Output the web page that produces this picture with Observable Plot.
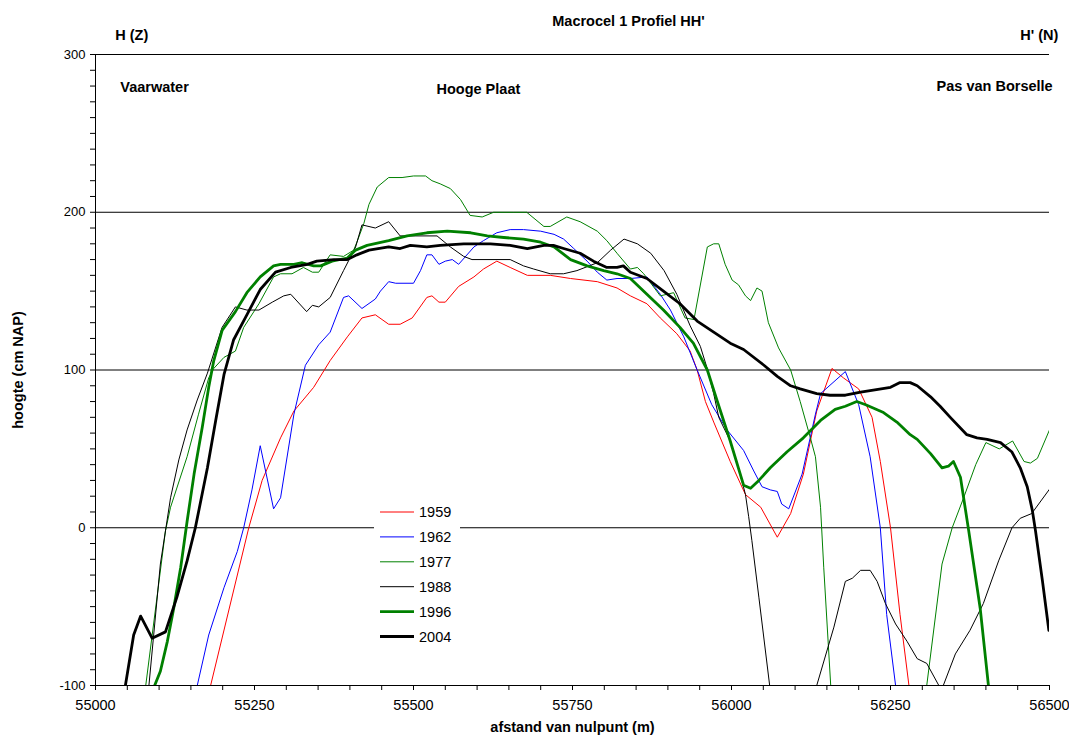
<!DOCTYPE html>
<html>
<head>
<meta charset="utf-8">
<script src="https://cdn.jsdelivr.net/npm/d3@7"></script>
<script src="https://cdn.jsdelivr.net/npm/@observablehq/plot@0.6"></script>
<style>
  html, body { margin: 0; padding: 0; background: #fff; }
  #chart { position: relative; width: 1069px; height: 735px; }
  svg { font-family: "Liberation Sans", Arial, sans-serif; }
</style>
</head>
<body>
<div id="chart"></div>
<script>
// ---- Data (afstand van nulpunt in m, hoogte in cm NAP) ----
const years = ["1959", "1962", "1977", "1988", "1996", "2004"];
const colors = ["#ff0000", "#0000ff", "#008000", "#000000", "#008000", "#000000"];
const widths = [1, 1, 1, 1, 2.8, 2.8];

const s1959 = [[55181,-100],[55241,0],[55262,30],[55291,57],[55312,74],[55343,89],[55369,106],[55396,121],[55419,133],[55440,135],[55461,129],[55479,129],[55498,133],[55521,146],[55529,147],[55540,143],[55550,143],[55571,153],[55595,159],[55610,164],[55631,169],[55652,165],[55679,160],[55715,160],[55747,158],[55789,156],[55820,152],[55841,147],[55867,142],[55888,133],[55914,123],[55935,112],[55946,100],[55959,80],[55972,67],[55998,42],[56022,21],[56046,13],[56072,-6],[56093,9],[56113,34],[56134,74],[56158,101],[56176,95],[56200,88],[56221,70],[56234,42],[56250,0],[56265,-55],[56279,-100]];

const s1962 = [[55160,-100],[55178,-68],[55202,-38],[55223,-15],[55233,0],[55246,24],[55259,52],[55280,12],[55291,19],[55312,72],[55330,103],[55351,116],[55369,124],[55390,146],[55398,147],[55419,139],[55440,145],[55448,150],[55461,156],[55472,155],[55500,155],[55511,163],[55521,173],[55529,173],[55540,167],[55550,169],[55561,170],[55571,167],[55595,178],[55610,182],[55631,187],[55652,189],[55673,189],[55700,188],[55721,186],[55736,183],[55752,177],[55773,169],[55789,162],[55804,157],[55820,158],[55841,158],[55867,159],[55888,148],[55904,138],[55925,121],[55946,100],[55969,78],[55993,62],[56019,49],[56035,36],[56048,26],[56061,24],[56072,23],[56079,15],[56090,12],[56111,34],[56132,72],[56140,85],[56179,99],[56200,78],[56218,45],[56234,0],[56244,-55],[56258,-100]];

const s1977 = [[55079,-100],[55110,-2],[55118,13],[55144,45],[55162,72],[55178,95],[55186,101],[55202,108],[55220,112],[55233,127],[55257,142],[55280,159],[55291,161],[55309,161],[55327,165],[55341,162],[55351,162],[55369,173],[55390,172],[55406,176],[55411,181],[55422,193],[55430,205],[55443,216],[55461,222],[55482,222],[55500,223],[55519,223],[55529,220],[55542,218],[55558,215],[55574,208],[55589,198],[55608,197],[55626,200],[55657,200],[55678,200],[55705,191],[55715,191],[55741,197],[55762,194],[55789,188],[55804,182],[55820,174],[55841,164],[55852,165],[55862,161],[55888,147],[55909,149],[55927,133],[55941,132],[55962,178],[55972,180],[55980,180],[55990,167],[56001,157],[56011,154],[56022,147],[56030,144],[56040,152],[56048,150],[56058,130],[56074,114],[56093,100],[56108,80],[56124,57],[56132,45],[56140,13],[56145,-25],[56156,-100],[56230,null],[56307,-100],[56331,-23],[56347,0],[56365,19],[56384,40],[56400,54],[56421,50],[56442,55],[56460,42],[56470,41],[56481,44],[56501,63]];

const s1988 = [[55084,-100],[55102,-23],[55110,-2],[55118,19],[55131,43],[55144,62],[55160,81],[55176,98],[55199,127],[55220,140],[55238,138],[55257,138],[55278,143],[55296,147],[55307,148],[55332,137],[55341,141],[55351,140],[55369,146],[55390,163],[55409,178],[55419,192],[55440,190],[55461,194],[55479,185],[55495,185],[55537,185],[55558,178],[55579,172],[55592,170],[55652,170],[55673,166],[55689,164],[55715,161],[55736,161],[55757,163],[55789,168],[55810,176],[55831,183],[55852,180],[55873,174],[55894,163],[55914,148],[55935,128],[55951,115],[55961,102],[55972,85],[55980,70],[55998,55],[56011,38],[56022,21],[56027,7],[56032,-8],[56043,-44],[56060,-100],[56100,null],[56134,-100],[56161,-63],[56179,-34],[56190,-32],[56203,-27],[56218,-27],[56229,-34],[56242,-48],[56258,-61],[56276,-72],[56292,-83],[56307,-86],[56326,-100],[56330,-102],[56333,-100],[56352,-80],[56375,-65],[56396,-48],[56420,-21],[56441,0],[56454,6],[56472,9],[56501,25]];

const s1996 = [[55093,-100],[55102,-91],[55113,-72],[55123,-51],[55134,-25],[55144,4],[55155,34],[55168,64],[55178,89],[55186,106],[55199,125],[55220,137],[55238,149],[55259,159],[55280,166],[55291,167],[55312,167],[55325,168],[55343,166],[55354,166],[55372,169],[55396,171],[55409,176],[55427,179],[55461,182],[55490,185],[55521,187],[55553,188],[55590,187],[55616,185],[55642,184],[55673,183],[55700,181],[55721,178],[55747,170],[55773,166],[55799,163],[55820,161],[55841,158],[55867,148],[55893,138],[55919,127],[55940,117],[55962,100],[55977,81],[55998,55],[56019,27],[56030,25],[56043,30],[56061,38],[56087,48],[56113,57],[56140,68],[56163,75],[56179,77],[56197,80],[56211,78],[56239,73],[56260,67],[56281,59],[56292,56],[56313,47],[56331,38],[56341,39],[56349,42],[56360,32],[56373,-2],[56391,-51],[56404,-100]];

const s2004 = [[55047,-100],[55060,-68],[55071,-56],[55089,-70],[55110,-66],[55128,-44],[55144,-21],[55157,0],[55176,38],[55189,68],[55202,97],[55217,119],[55238,135],[55259,151],[55283,162],[55307,165],[55333,167],[55348,169],[55375,170],[55396,170],[55411,173],[55430,176],[55461,178],[55479,177],[55495,179],[55521,178],[55542,179],[55579,180],[55621,180],[55652,179],[55679,177],[55705,179],[55720,179],[55736,177],[55762,174],[55783,169],[55804,165],[55820,165],[55830,166],[55841,162],[55867,158],[55893,150],[55919,142],[55946,131],[55972,124],[55998,117],[56019,113],[56051,103],[56072,96],[56093,90],[56108,88],[56134,85],[56155,84],[56179,84],[56203,86],[56218,87],[56250,89],[56265,92],[56281,92],[56292,90],[56313,83],[56328,77],[56344,70],[56370,59],[56386,57],[56402,56],[56423,54],[56441,48],[56454,38],[56465,26],[56473,11],[56478,-2],[56489,-34],[56499,-65]];

const seriesData = [s1959, s1962, s1977, s1988, s1996, s2004];

const xLabelTicks = [55000, 55250, 55500, 55750, 56000, 56250, 56500];
const yLabelTicks = [-100, 0, 100, 200, 300];
const gridValues = [0, 100, 200, 300];

const titleText = "Macrocel 1 Profiel HH'";
const labelsStart = [
  {x: 55039, y: 279, text: "Vaarwater"},
  {x: 55031, y: 312, text: "H (Z)"}
];
const labelsMiddle = [
  {x: 55602, y: 278, text: "Hooge Plaat"}
];
const labelsEnd = [
  {x: 56505, y: 279.5, text: "Pas van Borselle"},
  {x: 56514, y: 312, text: "H' (N)"}
];

// ---- Build table ----
const rows = [];
seriesData.forEach((s, i) => s.forEach(([x, y]) => rows.push({year: years[i], x, y})));

const lineMarks = years.map((yr, i) =>
  Plot.line(rows.filter(d => d.year === yr), {
    x: "x", y: "y", stroke: colors[i], strokeWidth: widths[i],
    strokeLinejoin: "round", clip: true
  })
);

const annFont = 14.5;

const chart = Plot.plot({
  width: 1069,
  height: 735,
  marginLeft: 95,
  marginRight: 20,
  marginTop: 54,
  marginBottom: 50,
  style: {fontFamily: "'Liberation Sans', Arial, sans-serif", fontSize: "13px", color: "#000", background: "#fff"},
  x: {domain: [55000, 56500]},
  y: {domain: [-100, 300]},
  marks: [
    Plot.ruleY(gridValues, {stroke: "#000", strokeWidth: 1}),
    Plot.axisX({ticks: d3.range(55000, 56501, 50), tickFormat: () => "", tickSize: 5, label: null, stroke: "#000"}),
    Plot.axisX({ticks: xLabelTicks, tickSize: 0, tickPadding: 14, tickFormat: d => String(d), label: null, fontSize: 14.5}),
    Plot.axisY({ticks: d3.range(-100, 301, 10), tickFormat: () => "", tickSize: 5, label: null, stroke: "#000"}),
    Plot.axisY({ticks: yLabelTicks, tickSize: 0, tickPadding: 10, tickFormat: d => String(d), label: null, fontSize: 13}),
    ...lineMarks,
    Plot.ruleY([-100], {stroke: "#000", strokeWidth: 1}),
    Plot.ruleX([55000], {stroke: "#000", strokeWidth: 1}),
    Plot.text(labelsStart, {x: "x", y: "y", text: "text", textAnchor: "start", fontWeight: "bold", fontSize: annFont}),
    Plot.text(labelsMiddle, {x: "x", y: "y", text: "text", textAnchor: "middle", fontWeight: "bold", fontSize: annFont}),
    Plot.text(labelsEnd, {x: "x", y: "y", text: "text", textAnchor: "end", fontWeight: "bold", fontSize: annFont}),
    Plot.text([titleText], {frameAnchor: "top", dx: 56, dy: -33, lineAnchor: "middle", textAnchor: "middle", fontWeight: "bold", fontSize: annFont}),
    Plot.text(["afstand van nulpunt (m)"], {frameAnchor: "bottom", dy: 42, lineAnchor: "middle", textAnchor: "middle", fontWeight: "bold", fontSize: annFont}),
    Plot.text(["hoogte (cm NAP)"], {frameAnchor: "left", y: 100, dx: -77, rotate: -90, textAnchor: "middle", fontWeight: "bold", fontSize: annFont})
  ]
});

document.getElementById("chart").appendChild(chart);

// ---- Legend (white box inside the plot) ----
const svg = d3.select(chart);
const lg = svg.append("g").attr("transform", "translate(374,497)").attr("text-anchor", "start");
lg.append("rect").attr("width", 86).attr("height", 152).attr("fill", "#fff");
years.forEach((yr, i) => {
  const yy = 15 + i * 24.9;
  lg.append("line").attr("x1", 6).attr("x2", 40).attr("y1", yy).attr("y2", yy)
    .attr("stroke", colors[i]).attr("stroke-width", widths[i]);
  lg.append("text").attr("x", 45).attr("y", yy).attr("dy", "0.35em")
    .attr("font-size", 14.5).attr("fill", "#000").attr("text-anchor", "start").text(yr);
});
</script>
</body>
</html>
